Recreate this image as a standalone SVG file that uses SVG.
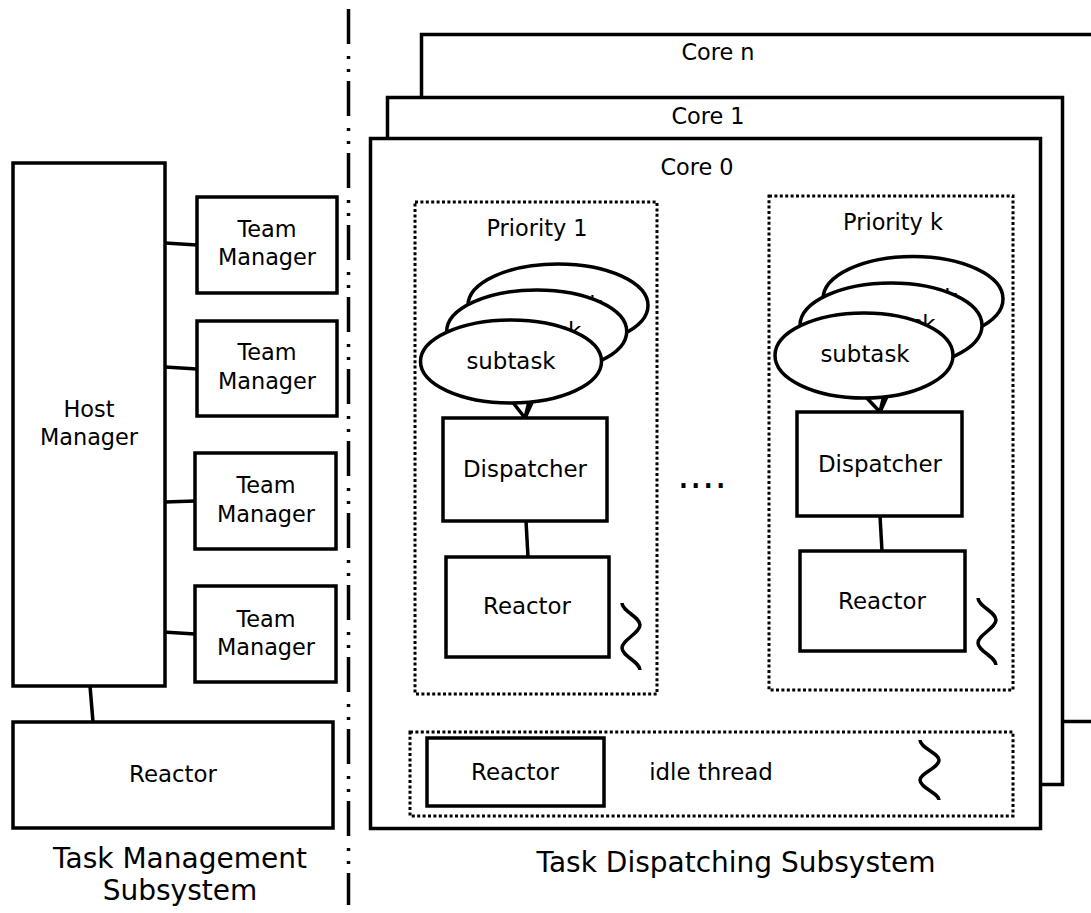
<svg xmlns="http://www.w3.org/2000/svg" width="1091" height="913" viewBox="0 0 1091 913">
  <style>
    text { font-family: "DejaVu Sans", "Liberation Sans", sans-serif; font-size: 22.4px; fill: #000; text-anchor: middle; }
    .lg { font-size: 22.9px; }
    .big { font-size: 28px; }
    .box { fill: #fff; stroke: #000; stroke-width: 3.5; }
    .dot { fill: none; stroke: #000; stroke-width: 3; stroke-dasharray: 3 2.4; }
    .ell { fill: #fff; stroke: #000; stroke-width: 3.5; }
    .wire { fill: none; stroke: #000; stroke-width: 3.5; }
    .thread { fill: none; stroke: #000; stroke-width: 3.5; }
    .sep { fill: none; stroke: #000; stroke-width: 3.5; stroke-dasharray: 35 12 3 10 3 9; }
  </style>

  <!-- subsystem separator -->
  <line class="sep" x1="348.5" y1="9" x2="348.5" y2="905"/>

  <!-- cores, back to front -->
  <g id="core-n">
    <rect class="box" x="421.5" y="34.5" width="690" height="687"/>
    <text x="718" y="60">Core n</text>
  </g>
  <g id="core-1">
    <rect class="box" x="387.5" y="97.5" width="675" height="687"/>
    <text x="708" y="124">Core 1</text>
  </g>
  <g id="core-0">
    <rect class="box" x="370.5" y="138.5" width="670" height="690"/>
    <text x="697" y="175">Core 0</text>
  </g>

  <!-- priority containers -->
  <g id="priority-1">
    <rect class="dot" x="415" y="202" width="242" height="492"/>
    <text x="537" y="236">Priority 1</text>
  </g>
  <g id="priority-k">
    <rect class="dot" x="769" y="196" width="244" height="494"/>
    <text x="893" y="230">Priority k</text>
  </g>
  <g id="idle">
    <rect class="dot" x="410" y="732" width="603" height="84"/>
    <text class="lg" x="711" y="780">idle thread</text>
    <path class="thread" d="M920,740 C920,748 939,753 939,760 C939,768 920,773 920,780 C920,788 939,793 939,800"/>
  </g>

  <!-- connectors -->
  <g id="connectors">
    <line class="wire" x1="165" y1="243" x2="197" y2="245"/>
    <line class="wire" x1="165" y1="367" x2="197" y2="369"/>
    <line class="wire" x1="165" y1="502" x2="195" y2="501"/>
    <line class="wire" x1="163" y1="632" x2="195" y2="634"/>
    <line class="wire" x1="90" y1="686" x2="93" y2="722"/>
    <line class="wire" x1="511" y1="400" x2="525" y2="418"/>
    <line class="wire" x1="536.7" y1="370" x2="525" y2="418"/>
    <line class="wire" x1="558" y1="345" x2="525" y2="418"/>
    <line class="wire" x1="526" y1="521" x2="528" y2="557"/>
    <line class="wire" x1="864" y1="395" x2="880" y2="412"/>
    <line class="wire" x1="891" y1="365" x2="880" y2="412"/>
    <line class="wire" x1="913" y1="339" x2="880" y2="412"/>
    <line class="wire" x1="880" y1="516" x2="882" y2="551"/>
  </g>

  <!-- task management side -->
  <g id="host-manager">
    <rect class="box" x="13" y="163" width="152" height="523"/>
    <text x="89" y="417">Host</text>
    <text x="89" y="445">Manager</text>
  </g>
  <g id="team-manager-1">
    <rect class="box" x="197" y="197" width="140" height="96"/>
    <text x="267" y="237">Team</text>
    <text x="267" y="265">Manager</text>
  </g>
  <g id="team-manager-2">
    <rect class="box" x="197" y="321" width="140" height="95"/>
    <text x="267" y="360">Team</text>
    <text x="267" y="389">Manager</text>
  </g>
  <g id="team-manager-3">
    <rect class="box" x="195" y="453" width="141" height="96"/>
    <text x="266" y="493">Team</text>
    <text x="266" y="522">Manager</text>
  </g>
  <g id="team-manager-4">
    <rect class="box" x="195" y="586" width="141" height="96"/>
    <text x="266" y="627">Team</text>
    <text x="266" y="655">Manager</text>
  </g>
  <g id="host-reactor">
    <rect class="box" x="13" y="722" width="320" height="106"/>
    <text class="lg" x="173" y="782">Reactor</text>
  </g>

  <!-- priority 1 contents -->
  <g id="p1-subtasks">
    <ellipse class="ell" cx="558" cy="305.5" rx="90" ry="41.5"/>
    <text class="lg" x="558" y="313">subtask</text>
    <ellipse class="ell" cx="536.7" cy="331.5" rx="90" ry="41.5"/>
    <text class="lg" x="536.7" y="339">subtask</text>
    <ellipse class="ell" cx="511" cy="361.5" rx="90.5" ry="41.5"/>
    <text class="lg" x="511" y="369">subtask</text>
  </g>
  <g id="p1-dispatcher">
    <rect class="box" x="443" y="418" width="164" height="103"/>
    <text class="lg" x="525" y="477">Dispatcher</text>
  </g>
  <g id="p1-reactor">
    <rect class="box" x="446" y="557" width="163" height="100"/>
    <text class="lg" x="527" y="614">Reactor</text>
    <path class="thread" d="M622,603 C622,611 640,617 640,625 C640,633 622,640 622,648 C622,656 640,662 640,670"/>
  </g>

  <!-- priority k contents -->
  <g id="pk-subtasks">
    <ellipse class="ell" cx="913" cy="299" rx="90" ry="42.5"/>
    <text class="lg" x="913" y="306">subtask</text>
    <ellipse class="ell" cx="891" cy="325.5" rx="91" ry="42.5"/>
    <text class="lg" x="891" y="332">subtask</text>
    <ellipse class="ell" cx="864" cy="355.5" rx="89" ry="42.5"/>
    <text class="lg" x="865" y="362">subtask</text>
  </g>
  <g id="pk-dispatcher">
    <rect class="box" x="797" y="412" width="165" height="104"/>
    <text class="lg" x="880" y="472">Dispatcher</text>
  </g>
  <g id="pk-reactor">
    <rect class="box" x="800" y="551" width="165" height="100"/>
    <text class="lg" x="882" y="609">Reactor</text>
    <path class="thread" d="M978,598 C978,606 996,612 996,620 C996,628 978,635 978,643 C978,651 996,657 996,665"/>
  </g>

  <text x="702" y="488" style="font-size:39px">....</text>

  <g id="idle-reactor">
    <rect class="box" x="427" y="738" width="177" height="68"/>
    <text class="lg" x="515" y="780">Reactor</text>
  </g>

  <!-- subsystem captions -->
  <text class="big" x="180" y="868">Task Management</text>
  <text class="big" x="180" y="900">Subsystem</text>
  <text class="big" x="736" y="872">Task Dispatching Subsystem</text>
</svg>
